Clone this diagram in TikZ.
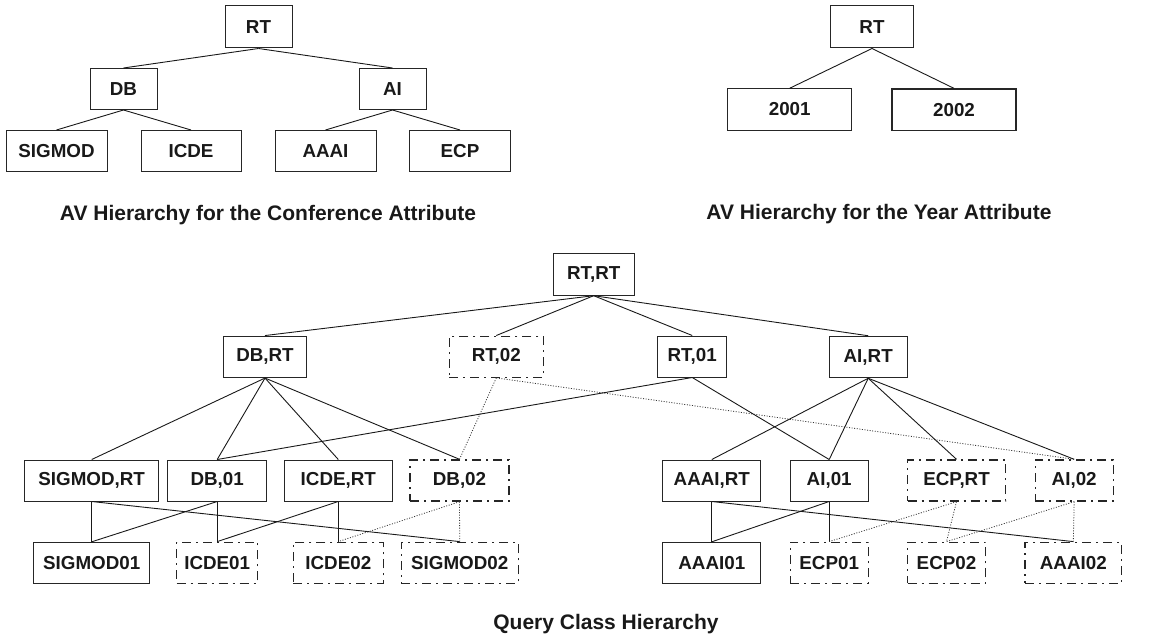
\documentclass[tikz,border=0pt]{standalone}
\usepackage{fontspec}
\setmainfont{Liberation Sans}
\begin{document}
\begin{tikzpicture}[x=1pt,y=-1pt,
  bx/.style={draw=black!85, line width=1pt, inner sep=0pt, text=black!90,
    font=\fontsize{18.8}{18.8}\selectfont\bfseries},
  dbx/.style={bx, line width=1.4pt, dash pattern=on 9pt off 5pt on 2pt off 5pt},
  ln/.style={line width=0.9pt, draw=black!90},
  dt/.style={line width=0.8pt, draw=black!80, dash pattern=on 1pt off 1.6pt},
  captxt/.style={inner sep=0pt, text=black!90, font=\fontsize{21}{21}\selectfont\bfseries}]
\useasboundingbox (0,0) rectangle (1150,639);

% ---- Conference hierarchy
\node[bx, minimum width=67pt, minimum height=42pt] (cRT) at (258.5,27) {RT};
\node[bx, minimum width=67pt, minimum height=41pt] (cDB) at (123.5,89) {DB};
\node[bx, minimum width=67pt, minimum height=41pt] (cAI) at (392.5,89) {AI};
\node[bx, minimum width=101pt, minimum height=41pt] (cSIG) at (56.5,151) {SIGMOD};
\node[bx, minimum width=100pt, minimum height=41pt] (cICDE) at (191,151) {ICDE};
\node[bx, minimum width=101pt, minimum height=41pt] (cAAAI) at (325.5,151) {AAAI};
\node[bx, minimum width=101pt, minimum height=41pt] (cECP) at (460,151) {ECP};
\draw[ln] (cRT.south) -- (cDB.north);
\draw[ln] (cRT.south) -- (cAI.north);
\draw[ln] (cDB.south) -- (cSIG.north);
\draw[ln] (cDB.south) -- (cICDE.north);
\draw[ln] (cAI.south) -- (cAAAI.north);
\draw[ln] (cAI.south) -- (cECP.north);
\node[captxt, anchor=base] (cap1) at (268,220) {AV Hierarchy for the Conference Attribute};

% ---- Year hierarchy
\node[bx, minimum width=83pt, minimum height=42pt] (yRT) at (872,27) {RT};
\node[bx, minimum width=124pt, minimum height=41.5pt] (y1) at (789.7,109.5) {2001};
\node[bx, line width=1.4pt, minimum width=124pt, minimum height=41.5pt] (y2) at (954,109.8) {2002};
\draw[ln] (yRT.south) -- (y1.north);
\draw[ln] (yRT.south) -- (y2.north);
\node[captxt, anchor=base] (cap2) at (879,219) {AV Hierarchy for the Year Attribute};

% ---- Query class hierarchy
\node[bx, minimum width=81pt, minimum height=42pt] (qRR) at (593.7,274.2) {RT,RT};

\node[bx, minimum width=83pt, minimum height=41.5pt] (qDBRT) at (265,356.8) {DB,RT};
\node[dbx, minimum width=94pt, minimum height=41pt] (qRT02) at (496.3,356.7) {RT,02};
\node[bx, minimum width=69pt, minimum height=41pt] (qRT01) at (692.2,356.5) {RT,01};
\node[bx, minimum width=78pt, minimum height=41.5pt] (qAIRT) at (868.2,357) {AI,RT};

\node[bx, minimum width=134.5pt, minimum height=41pt] (qSIGRT) at (91.7,480.5) {SIGMOD,RT};
\node[bx, minimum width=99pt, minimum height=41pt] (qDB01) at (217.2,480.5) {DB,01};
\node[bx, minimum width=108pt, minimum height=41pt] (qICDERT) at (338.3,480.5) {ICDE,RT};
\node[dbx, minimum width=99pt, minimum height=41pt] (qDB02) at (459.5,480.5) {DB,02};
\node[bx, minimum width=98pt, minimum height=41pt] (qAAAIRT) at (711.8,480.5) {AAAI,RT};
\node[bx, minimum width=78pt, minimum height=41pt] (qAI01) at (829.2,480.5) {AI,01};
\node[dbx, minimum width=98pt, minimum height=41pt] (qECPRT) at (956.5,480.5) {ECP,RT};
\node[dbx, minimum width=78pt, minimum height=41pt] (qAI02) at (1074.2,480.5) {AI,02};

\node[bx, minimum width=116.5pt, minimum height=41pt] (qSIG01) at (91.7,562.8) {SIGMOD01};
\node[dbx, minimum width=81pt, minimum height=41pt] (qICDE01) at (217.2,562.8) {ICDE01};
\node[dbx, minimum width=90pt, minimum height=41pt] (qICDE02) at (338.3,562.8) {ICDE02};
\node[dbx, minimum width=117pt, minimum height=41pt] (qSIG02) at (459.7,562.8) {SIGMOD02};
\node[bx, minimum width=98pt, minimum height=41pt] (qAAAI01) at (711.8,562.8) {AAAI01};
\node[dbx, minimum width=78pt, minimum height=41pt] (qECP01) at (829.2,562.8) {ECP01};
\node[dbx, minimum width=78pt, minimum height=41pt] (qECP02) at (946.5,562.8) {ECP02};
\node[dbx, minimum width=96.5pt, minimum height=41pt] (qAAAI02) at (1073.3,562.8) {AAAI02};

% level 1
\draw[ln] (qRR.south) -- (qDBRT.north);
\draw[ln] (qRR.south) -- (qRT02.north);
\draw[ln] (qRR.south) -- (qRT01.north);
\draw[ln] (qRR.south) -- (qAIRT.north);
% level 2
\draw[ln] (qDBRT.south) -- (qSIGRT.north);
\draw[ln] (qDBRT.south) -- (qDB01.north);
\draw[ln] (qDBRT.south) -- (qICDERT.north);
\draw[ln] (qDBRT.south) -- (qDB02.north);
\draw[dt] (qRT02.south) -- (qDB02.north);
\draw[dt] (qRT02.south) -- (qAI02.north);
\draw[ln] (qRT01.south) -- (qDB01.north);
\draw[ln] (qRT01.south) -- (qAI01.north);
\draw[ln] (qAIRT.south) -- (qAAAIRT.north);
\draw[ln] (qAIRT.south) -- (qAI01.north);
\draw[ln] (qAIRT.south) -- (qECPRT.north);
\draw[ln] (qAIRT.south) -- (qAI02.north);
% level 3
\draw[ln] (qSIGRT.south) -- (qSIG01.north);
\draw[ln] (qSIGRT.south) -- (qSIG02.north);
\draw[ln] (qDB01.south) -- (qSIG01.north);
\draw[ln] (qDB01.south) -- (qICDE01.north);
\draw[ln] (qICDERT.south) -- (qICDE01.north);
\draw[ln] (qICDERT.south) -- (qICDE02.north);
\draw[dt] (qDB02.south) -- (qICDE02.north);
\draw[dt] (qDB02.south) -- (qSIG02.north);
\draw[ln] (qAAAIRT.south) -- (qAAAI01.north);
\draw[ln] (qAAAIRT.south) -- (qAAAI02.north);
\draw[ln] (qAI01.south) -- (qAAAI01.north);
\draw[ln] (qAI01.south) -- (qECP01.north);
\draw[dt] (qECPRT.south) -- (qECP01.north);
\draw[dt] (qECPRT.south) -- (qECP02.north);
\draw[dt] (qAI02.south) -- (qECP02.north);
\draw[dt] (qAI02.south) -- (qAAAI02.north);

\node[captxt, anchor=base] (cap3) at (606,629) {Query Class Hierarchy};
\end{tikzpicture}
\end{document}
